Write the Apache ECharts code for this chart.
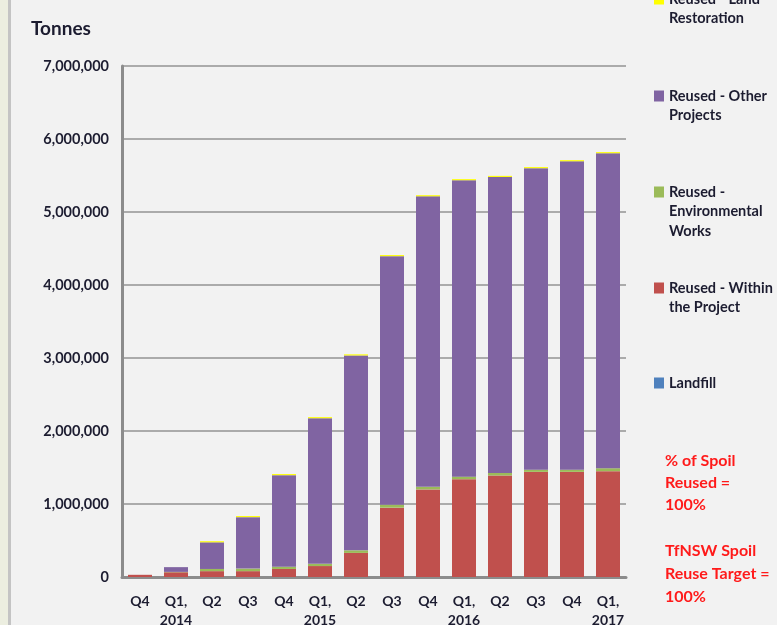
<!DOCTYPE html>
<html>
<head>
<meta charset="utf-8">
<script src="https://cdn.jsdelivr.net/npm/echarts@6/dist/echarts.min.js"></script>
<style>
  html, body { margin: 0; padding: 0; background: #f2f2f2; }
  #chart { width: 777px; height: 625px; }
</style>
</head>
<body>
<div id="chart"></div>
<script>
// Quarterly spoil tonnages by destination (cumulative)
const quarters = ['Q4', 'Q1,\n2014', 'Q2', 'Q3', 'Q4', 'Q1,\n2015', 'Q2', 'Q3', 'Q4', 'Q1,\n2016', 'Q2', 'Q3', 'Q4', 'Q1,\n2017'];
const landfill        = [0, 0, 0, 0, 0, 0, 0, 0, 0, 0, 0, 0, 0, 0];
const withinProject   = [30000, 65000, 80000, 80000, 110000, 150000, 330000, 950000, 1200000, 1340000, 1390000, 1440000, 1440000, 1450000];
const environmental   = [0, 5000, 30000, 35000, 30000, 30000, 35000, 40000, 35000, 35000, 35000, 30000, 30000, 40000];
const otherProjects   = [0, 65000, 365000, 705000, 1255000, 1995000, 2670000, 3405000, 3980000, 4060000, 4055000, 4130000, 4225000, 4315000];
const landRestoration = [0, 0, 15000, 15000, 15000, 15000, 15000, 15000, 15000, 15000, 15000, 15000, 15000, 15000];
const yTicks = [0, 1000000, 2000000, 3000000, 4000000, 5000000, 6000000, 7000000];

const seriesNames = ['Landfill', 'Reused - Within the Project', 'Reused - Environmental Works', 'Reused - Other Projects', 'Reused - Land Restoration'];
const seriesColors = ['#4f81bd', '#c0504d', '#9bbb59', '#8064a2', '#ffff00'];
const seriesData = [landfill, withinProject, environmental, otherProjects, landRestoration];

// Legend labels, wrapped like the side key
const legendLines = {
  'Reused - Land Restoration': ['Reused - Land', 'Restoration'],
  'Reused - Other Projects': ['Reused - Other', 'Projects'],
  'Reused - Environmental Works': ['Reused -', 'Environmental', 'Works'],
  'Reused - Within the Project': ['Reused - Within', 'the Project'],
  'Landfill': ['Landfill']
};
// vertical centre of each legend swatch
const legendCenters = {
  'Reused - Land Restoration': -1,
  'Reused - Other Projects': 96,
  'Reused - Environmental Works': 192,
  'Reused - Within the Project': 288,
  'Landfill': 383
};
const LEGEND_LH = 19.5;

const font = 'Lato, "Open Sans", sans-serif';
const textDark = '#1c1c30';

const legends = seriesNames.map(function (name) {
  const lines = legendLines[name];
  const pad = lines.length - 1;
  const padded = new Array(pad).fill(' ').concat(lines);
  const h = padded.length * LEGEND_LH;
  return {
    data: [name],
    orient: 'vertical',
    left: 654,
    top: legendCenters[name] - h / 2,
    padding: 0,
    itemWidth: 10,
    itemHeight: 11,
    itemGap: 0,
    icon: 'rect',
    selectedMode: false,
    formatter: function () { return padded.join('\n'); },
    textStyle: {
      fontFamily: font,
      fontSize: 14.5,
      fontWeight: 'bold',
      color: textDark,
      lineHeight: LEGEND_LH
    }
  };
});

const chart = echarts.init(document.getElementById('chart'), null, { renderer: 'canvas' });

chart.setOption({
  backgroundColor: '#f2f2f2',
  animation: false,
  grid: { left: 122, right: 151, top: 66, bottom: 48, containLabel: false, outerBoundsMode: 'none' },
  legend: legends,
  xAxis: {
    type: 'category',
    data: quarters,
    axisTick: { show: false },
    axisLine: { show: true, lineStyle: { color: '#8c8c8c', width: 3 } },
    axisLabel: {
      interval: 0,
      margin: 15,
      fontFamily: font,
      fontSize: 14,
      fontWeight: 'bold',
      color: textDark,
      lineHeight: 19
    }
  },
  yAxis: {
    type: 'value',
    min: yTicks[0],
    max: yTicks[yTicks.length - 1],
    interval: 1000000,
    axisLine: { show: true, lineStyle: { color: '#8c8c8c', width: 3 } },
    axisTick: { show: false },
    splitLine: { lineStyle: { color: '#ababab', width: 2 } },
    axisLabel: {
      margin: 13,
      fontFamily: font,
      fontSize: 14.5,
      fontWeight: 'bold',
      color: textDark,
      formatter: function (v) { return v.toLocaleString('en-US'); }
    }
  },
  series: seriesNames.map(function (name, i) {
    return {
      name: name,
      type: 'bar',
      stack: 'spoil',
      barWidth: 24,
      data: seriesData[i],
      itemStyle: { color: seriesColors[i] },
      emphasis: { disabled: true }
    };
  }),
  graphic: [
    { type: 'rect', left: 0, top: 0, shape: { width: 8, height: 625 }, style: { fill: '#eceee0' }, silent: true },
    { type: 'rect', left: 8, top: 0, shape: { width: 3, height: 625 }, style: { fill: '#c4c4c4' }, silent: true },
    {
      type: 'text', left: 31, top: 19,
      style: { text: 'Tonnes', font: 'bold 19px ' + font, fill: textDark }
    },
    {
      type: 'text', left: 665, top: 450,
      style: { text: '% of Spoil\nReused =\n100%', font: 'bold 16px ' + font, fill: '#ff1a1a', lineHeight: 22 }
    },
    {
      type: 'text', left: 665, top: 539,
      style: { text: 'TfNSW Spoil\nReuse Target =\n100%', font: 'bold 16px ' + font, fill: '#ff1a1a', lineHeight: 23 }
    }
  ]
});
</script>
</body>
</html>
